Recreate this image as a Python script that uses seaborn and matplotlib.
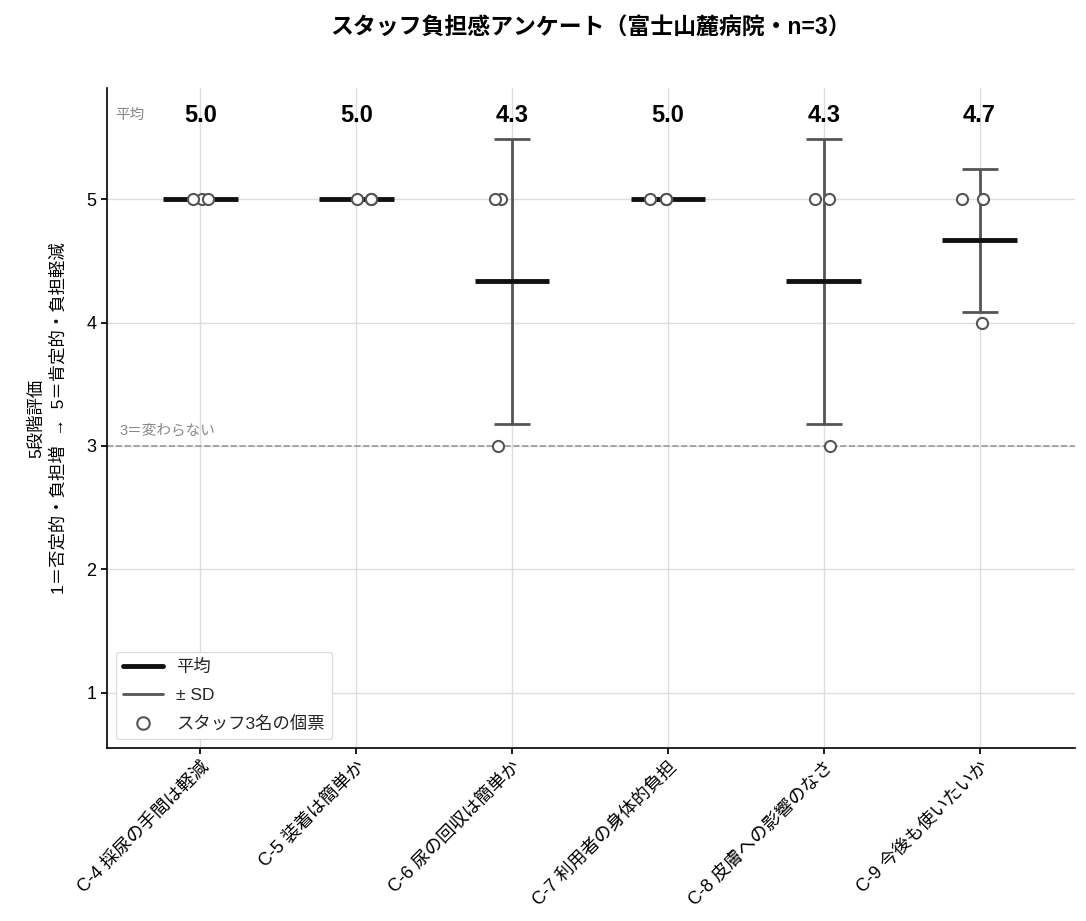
import numpy as np
import pandas as pd
import matplotlib
matplotlib.use('Agg')
import matplotlib.pyplot as plt
import seaborn as sns
from matplotlib.lines import Line2D

# Questions and the three staff votes per question
questions = ['C-4 採尿の手間は軽減', 'C-5 装着は簡単か', 'C-6 尿の回収は簡単か',
             'C-7 利用者の身体的負担', 'C-8 皮膚への影響のなさ', 'C-9 今後も使いたいか']
staff_a = [5, 5, 3, 5, 5, 5]
staff_b = [5, 5, 5, 5, 5, 5]
staff_c = [5, 5, 5, 5, 3, 4]

rows = []
for name, votes in [('A', staff_a), ('B', staff_b), ('C', staff_c)]:
    for q, v in zip(questions, votes):
        rows.append({'question': q, 'staff': name, 'score': v})
df = pd.DataFrame(rows)

stats = df.groupby('question', sort=False)['score'].agg(['mean', 'std']).reindex(questions)

sns.set_theme(style='whitegrid')
plt.rcParams['font.family'] = ['Liberation Sans', 'Noto Sans CJK JP', 'DejaVu Sans']

fig = plt.figure(figsize=(10.86, 9.21), dpi=100)
ax = fig.add_axes([0.0985, 0.188, 0.891, 0.7165])

# reference line at 3
ax.axhline(3, color='#999999', linestyle='--', linewidth=1.2, zorder=1)
ax.text(-0.52, 3.07, '3＝変わらない', color='#888888', fontsize=10.5, va='bottom', ha='left')

# individual votes
np.random.seed(3)
sns.stripplot(data=df, x='question', y='score', order=questions, jitter=0.12,
              size=8, color='white', edgecolor='#555555', linewidth=1.5, ax=ax, zorder=4)

ax.grid(True, axis='both', color='#dddddd', linewidth=1)
ax.set_axisbelow(True)

pos = np.arange(len(questions))
# SD error bars
ax.errorbar(pos, stats['mean'], yerr=stats['std'].fillna(0), fmt='none',
            ecolor='#555555', elinewidth=2, capsize=13, capthick=2, zorder=2)
# mean lines
ax.hlines(stats['mean'], pos - 0.24, pos + 0.24, color='#111111', linewidth=3.5, zorder=3)

# mean labels
for p, m in zip(pos, stats['mean']):
    ax.text(p, 5.68, f'{m:.1f}', ha='center', va='center', fontsize=17, fontweight='bold', color='black')
ax.text(-0.55, 5.68, '平均', ha='left', va='center', fontsize=10.5, color='#888888')

ax.set_xlim(-0.6, 5.61)
ax.set_ylim(0.555, 5.9)
ax.set_yticks([1, 2, 3, 4, 5])
ax.set_xlabel('')
ax.set_ylabel('5段階評価\n1＝否定的・負担増  →  5＝肯定的・負担軽減', fontsize=12.5, color='black',
              labelpad=14, linespacing=1.5)
ax.tick_params(axis='both', labelsize=13, colors='black', length=4, left=True, bottom=True)
plt.setp(ax.get_xticklabels(), rotation=45, ha='right', rotation_mode='anchor')

for s in ['top', 'right']:
    ax.spines[s].set_visible(False)
for s in ['left', 'bottom']:
    ax.spines[s].set_color('black')
    ax.spines[s].set_linewidth(1.2)

handles = [
    Line2D([0], [0], color='#111111', linewidth=3.5, label='平均'),
    Line2D([0], [0], color='#555555', linewidth=2, label='± SD'),
    Line2D([0], [0], marker='o', linestyle='none', markersize=9, markerfacecolor='white',
           markeredgecolor='#555555', markeredgewidth=1.5, label='スタッフ3名の個票'),
]
ax.legend(handles=handles, loc='lower left', fontsize=12.5, frameon=True, framealpha=1,
          edgecolor='#dddddd', handlelength=2.3, labelspacing=0.75)

ax.set_title('スタッフ負担感アンケート（富士山麓病院・n=3）', fontsize=16.5, fontweight='bold',
             color='black', pad=38)

fig.savefig('out.png', dpi=100)
